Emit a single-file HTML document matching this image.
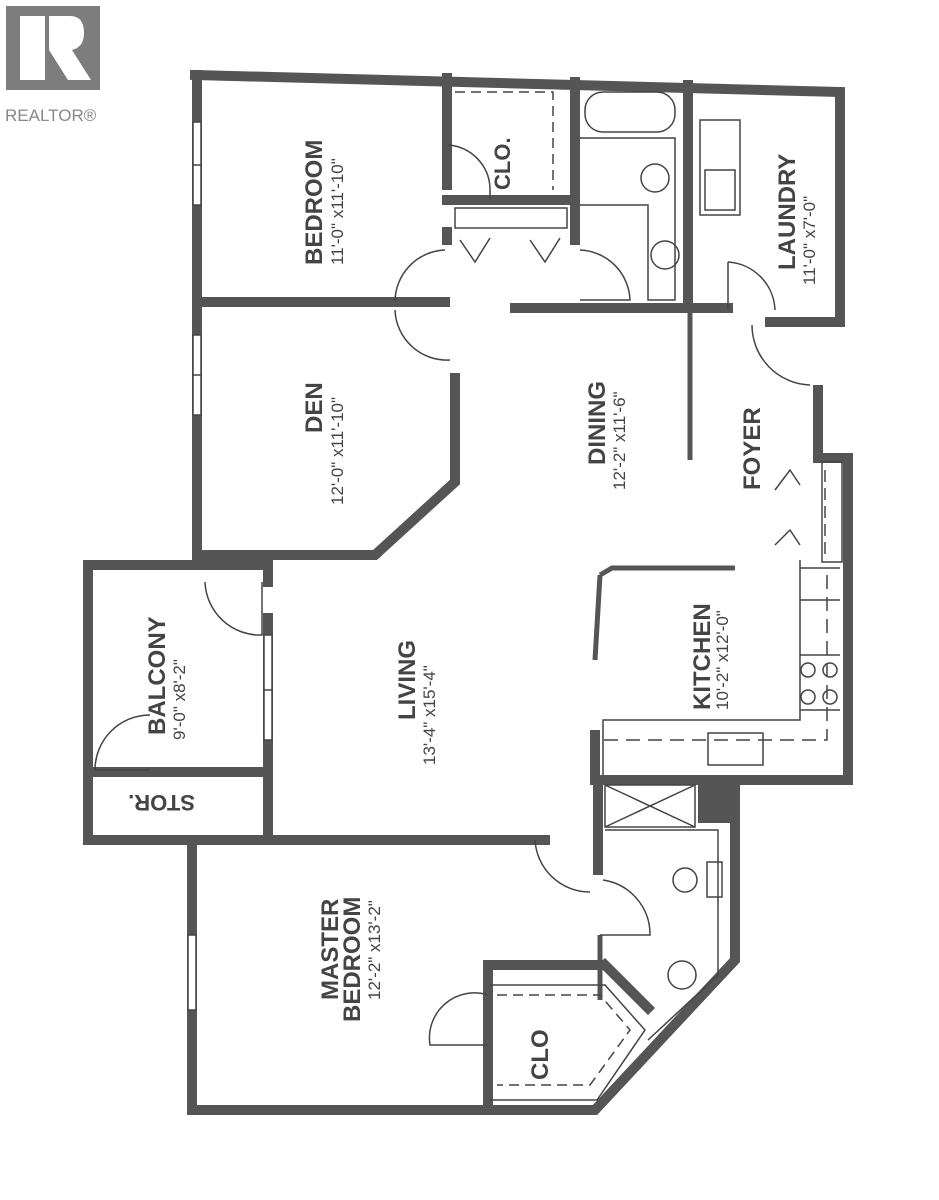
<!DOCTYPE html>
<html><head><style>
html,body{margin:0;padding:0;background:#fff;}
svg{display:block;}
text{font-family:"Liberation Sans",sans-serif;fill:#444;}
</style></head><body>
<svg width="939" height="1200" viewBox="0 0 939 1200" xmlns="http://www.w3.org/2000/svg">
<rect width="939" height="1200" fill="#fff"/>
<rect x="6" y="6" width="94" height="84" fill="#7d7d7d"/>
<path d="M20 16 H45 V80 H20 Z M49 16 H70 Q84 16 84 33 Q84 47 72 50 L91 80 H68 L49 50 Z" fill="#fff"/>
<text x="5" y="121" font-size="17" style="fill:#888">REALTOR®</text>

<g stroke="#555" stroke-width="10" fill="none" stroke-linecap="square">
<path d="M195 75 L840 92 L840 322 L770 322"/>
<path d="M197 75 L197 555 L375 555 L455 482 L455 378"/>
<path d="M200 302 L445 302"/>
<path d="M447 78 L447 185"/>
<path d="M447 200 L575 200 L575 82"/>
<path d="M447 232 L447 240"/>
<path d="M575 200 L575 240"/>
<path d="M688 85 L688 308"/>
<path d="M515 308 L728 308"/>
<path d="M88 565 L268 565 L268 582"/>
<path d="M88 565 L88 840 L190 840"/>
<path d="M268 618 L268 835"/>
<path d="M92 772 L264 772"/>
<path d="M190 840 L545 840"/>
<path d="M192 840 L192 1110 L595 1110 L735 960 L735 780"/>
<path d="M488 1110 L488 965 L600 965"/>
<path d="M605 965 L648 1008"/>
<path d="M595 735 L595 780 L848 780 L848 458 L818 458 L818 390"/>
<path d="M598 780 L598 870"/>
<path d="M690 780 L710 780 L710 800"/>
</g>
<rect x="698" y="778" width="38" height="45" fill="#555"/>
<!-- windows -->
<g fill="#fff" stroke="#444" stroke-width="1.5">
<rect x="193" y="122" width="8" height="83"/>
<rect x="193" y="335" width="8" height="80"/>
<rect x="188" y="935" width="8" height="75"/>
<rect x="264" y="635" width="8" height="105"/>
</g>
<g stroke="#444" stroke-width="1.5"><path d="M193 165 L201 165 M193 375 L201 375 M264 690 L272 690"/></g>
<g stroke="#555" stroke-width="5" fill="none">
<path d="M690 310 L690 460"/>
<path d="M600 575 L612 568 L735 568"/>
<path d="M600 575 L595 660"/>
<path d="M600 935 L600 1000"/>
</g>
<g stroke="#444" stroke-width="1.5" fill="none">
<path d="M445 250 A52 52 0 0 0 395 302"/>
<path d="M395 310 A52 52 0 0 0 450 360"/>
<path d="M580 250 A52 52 0 0 1 630 300 L580 300"/>
<path d="M728 262 L728 310 M728 262 A50 50 0 0 1 775 310"/>
<path d="M752 325 A60 60 0 0 0 810 385"/>
<path d="M448 145 A45 45 0 0 1 490 188 L490 200"/>
<path d="M205 582 A55 55 0 0 0 262 635 L262 582"/>
<path d="M150 715 A55 55 0 0 0 95 770 L150 770"/>
<path d="M535 840 A55 55 0 0 0 590 892"/>
<path d="M603 880 A55 55 0 0 1 650 935 L600 935"/>
<path d="M488 995 A45 45 0 0 0 430 1045 L488 1045"/>
<path d="M455 92 L553 92 L553 190" stroke-dasharray="10 6"/>
<path d="M497 995 L600 995 L630 1030 L590 1085 L497 1085" stroke-dasharray="10 6"/>
<path d="M490 985 L605 985 L645 1030 L597 1100 L490 1100"/>
<rect x="455" y="208" width="112" height="20"/>
<path d="M460 240 L475 262 L490 238 M530 240 L545 262 L560 238"/>
<rect x="585" y="92" width="90" height="40" rx="18"/>
<path d="M580 138 L675 138 L675 300 L648 300 L648 205 L580 205"/>
<circle cx="655" cy="178" r="14"/>
<circle cx="665" cy="255" r="14"/>
<rect x="700" y="120" width="40" height="95"/>
<rect x="705" y="170" width="30" height="40"/>
<rect x="822" y="462" width="20" height="100"/>
<path d="M825 470 L825 560" stroke-dasharray="12 6"/>
<path d="M775 490 L790 470 L800 485 M775 545 L790 530 L800 545"/>
<path d="M800 560 L800 720 L603 720 L603 775"/>
<path d="M800 568 L840 568 M800 600 L840 600 M800 655 L840 655 M800 710 L840 710"/>
<path d="M827 575 L827 740 L603 740" stroke-dasharray="14 8"/>
<circle cx="808" cy="670" r="7"/><circle cx="830" cy="670" r="7"/>
<circle cx="808" cy="697" r="7"/><circle cx="830" cy="697" r="7"/>
<rect x="708" y="733" width="55" height="32"/>
<rect x="605" y="785" width="90" height="42"/>
<path d="M605 785 L695 827 M695 785 L605 827"/>
<path d="M605 830 L718 830 L718 975 L648 1040"/>
<circle cx="685" cy="880" r="12"/>
<rect x="707" y="862" width="15" height="35"/>
<circle cx="682" cy="975" r="14"/>
</g>
<g font-weight="bold">
<text transform="translate(322,265) rotate(-90)" font-size="24">BEDROOM</text>
<text transform="translate(343,265) rotate(-90)" font-size="17" font-weight="normal">11'-0" x11'-10"</text>
<text transform="translate(322,433) rotate(-90)" font-size="24">DEN</text>
<text transform="translate(343,505) rotate(-90)" font-size="17" font-weight="normal">12'-0" x11'-10"</text>
<text transform="translate(510,190) rotate(-90)" font-size="22">CLO.</text>
<text transform="translate(795,270) rotate(-90)" font-size="24">LAUNDRY</text>
<text transform="translate(815,285) rotate(-90)" font-size="17" font-weight="normal">11'-0" x7'-0"</text>
<text transform="translate(605,465) rotate(-90)" font-size="24">DINING</text>
<text transform="translate(625,490) rotate(-90)" font-size="17" font-weight="normal">12'-2" x11'-6"</text>
<text transform="translate(760,490) rotate(-90)" font-size="24">FOYER</text>
<text transform="translate(165,735) rotate(-90)" font-size="24">BALCONY</text>
<text transform="translate(185,740) rotate(-90)" font-size="17" font-weight="normal">9'-0" x8'-2"</text>
<text transform="translate(195,795) rotate(180)" font-size="22">STOR.</text>
<text transform="translate(415,720) rotate(-90)" font-size="24">LIVING</text>
<text transform="translate(435,765) rotate(-90)" font-size="17" font-weight="normal">13'-4" x15'-4"</text>
<text transform="translate(710,710) rotate(-90)" font-size="24">KITCHEN</text>
<text transform="translate(728,710) rotate(-90)" font-size="17" font-weight="normal">10'-2" x12'-0"</text>
<text transform="translate(338,1000) rotate(-90)" font-size="24">MASTER</text>
<text transform="translate(360,1022) rotate(-90)" font-size="24">BEDROOM</text>
<text transform="translate(380,1000) rotate(-90)" font-size="17" font-weight="normal">12'-2" x13'-2"</text>
<text transform="translate(548,1080) rotate(-90)" font-size="24">CLO</text>
</g>
</svg>
</body></html>
